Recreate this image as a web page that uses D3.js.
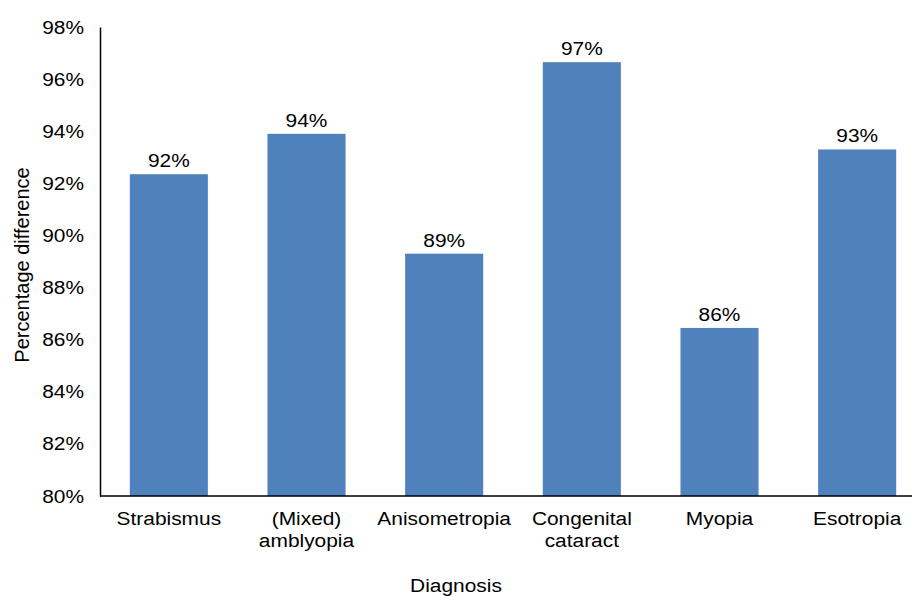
<!DOCTYPE html>
<html>
<head>
<meta charset="utf-8">
<script src="https://cdn.jsdelivr.net/npm/d3@7"></script>
<style>
  html, body { margin: 0; padding: 0; background: #fff; }
  svg { display: block; font-family: "Liberation Sans", Arial, sans-serif; }
</style>
</head>
<body>
<svg id="chart" width="912" height="596"></svg>
<script>
const categories = [["Strabismus"], ["(Mixed)", "amblyopia"], ["Anisometropia"], ["Congenital", "cataract"], ["Myopia"], ["Esotropia"]];
const values = [92.35, 93.9, 89.3, 96.65, 86.45, 93.3];
const valueLabels = ["92%", "94%", "89%", "97%", "86%", "93%"];
const yTicks = [80, 82, 84, 86, 88, 90, 92, 94, 96, 98];
const xTitle = "Diagnosis";
const yTitle = "Percentage difference";

const svg = d3.select("#chart");
const mLeft = 100, mRight = 926, mTop = 27, mBottom = 496;
const fs = 19, sx = 1.1;

const x = d3.scaleBand().domain(d3.range(categories.length)).range([mLeft, mRight]).paddingInner(0.433).paddingOuter(0.2165);
const y = d3.scaleLinear().domain([80, 98]).range([mBottom, mTop]);

// bars
svg.selectAll("rect.bar").data(values).enter().append("rect")
  .attr("class", "bar")
  .attr("x", (d, i) => x(i))
  .attr("width", x.bandwidth())
  .attr("y", d => y(d))
  .attr("height", d => y(80) - y(d))
  .attr("fill", "#4F81BD");

// value labels
svg.selectAll("text.vl").data(values).enter().append("text")
  .attr("class", "vl")
  .attr("transform", (d, i) => `translate(${x(i) + x.bandwidth() / 2},${y(d) - 7}) scale(${sx},1)`)
  .attr("text-anchor", "middle")
  .attr("font-size", fs)
  .attr("fill", "#000")
  .text((d, i) => valueLabels[i]);

// y axis
const yAxis = d3.axisLeft(y).tickValues(yTicks).tickSize(0).tickPadding(16).tickFormat(d => d + "%");
const gy = svg.append("g").attr("transform", `translate(${mLeft},0)`).call(yAxis);
gy.select(".domain").attr("stroke", "#000").attr("stroke-width", 1.5);
gy.selectAll(".tick text")
  .attr("font-size", fs)
  .attr("font-family", "Liberation Sans, Arial, sans-serif")
  .attr("fill", "#000")
  .each(function() {
    const t = d3.select(this);
    const xx = +t.attr("x");
    t.attr("x", null).attr("transform", `translate(${xx},0) scale(${sx},1)`);
  });

// x axis line
svg.append("line")
  .attr("x1", mLeft).attr("x2", 912)
  .attr("y1", y(80)).attr("y2", y(80))
  .attr("stroke", "#000").attr("stroke-width", 1.5);

// x labels
const xl = svg.selectAll("text.xl").data(categories).enter().append("text")
  .attr("class", "xl")
  .attr("transform", (d, i) => `translate(${x(i) + x.bandwidth() / 2},${mBottom + 29}) scale(${sx},1)`)
  .attr("text-anchor", "middle")
  .attr("font-size", fs)
  .attr("fill", "#000");
xl.each(function(d) {
  const t = d3.select(this);
  d.forEach((line, k) => {
    t.append("tspan").attr("x", 0).attr("y", k * 22).text(line);
  });
});

// x title
svg.append("text")
  .attr("transform", `translate(456,592) scale(${sx},1)`)
  .attr("text-anchor", "middle")
  .attr("font-size", fs)
  .attr("fill", "#000")
  .text(xTitle);

// y title
svg.append("text")
  .attr("transform", `translate(29,265) rotate(-90)`)
  .attr("text-anchor", "middle")
  .attr("font-size", 20)
  .attr("fill", "#000")
  .text(yTitle);
</script>
</body>
</html>
